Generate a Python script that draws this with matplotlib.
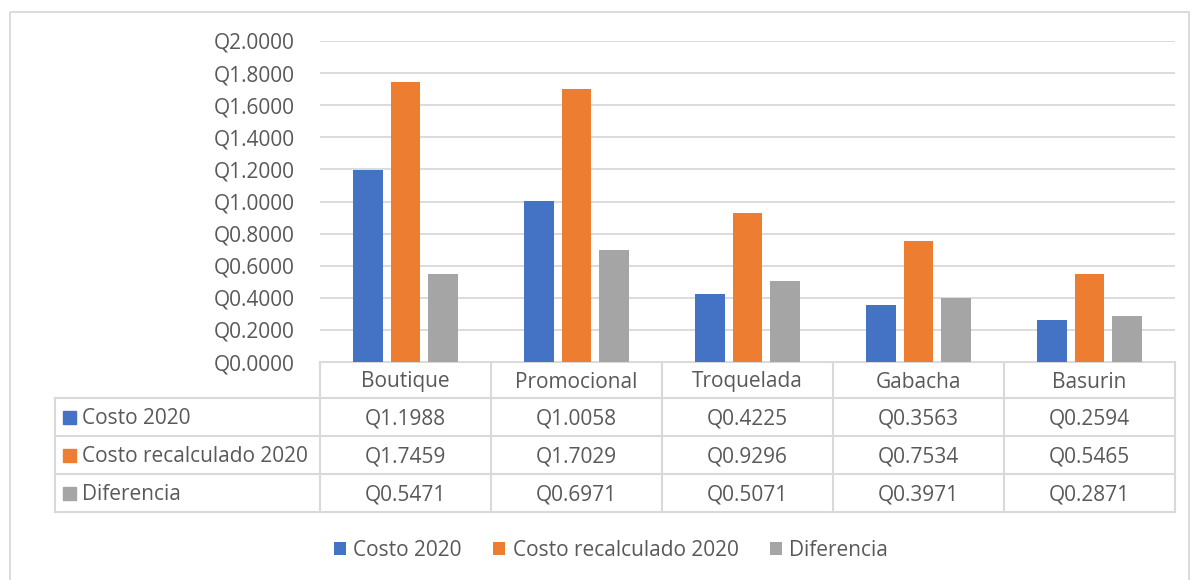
import matplotlib
matplotlib.use("Agg")
import matplotlib.pyplot as plt
from matplotlib.patches import Rectangle, Patch

categorias = ["Boutique", "Promocional", "Troquelada", "Gabacha", "Basurin"]
series = ["Costo 2020", "Costo recalculado 2020", "Diferencia"]
costo_2020 = [1.1988, 1.0058, 0.4225, 0.3563, 0.2594]
costo_recalculado = [1.7459, 1.7029, 0.9296, 0.7534, 0.5465]
diferencia = [0.5471, 0.6971, 0.5071, 0.3971, 0.2871]
y_ticks = [0.0, 0.2, 0.4, 0.6, 0.8, 1.0, 1.2, 1.4, 1.6, 1.8, 2.0]

colores = ["#4472C4", "#ED7D31", "#A5A5A5"]
texto = "#595959"
linea = "#D9D9D9"
fuente = "Open Sans"
fs = 15
W, H = 1192, 580

plt.rcParams["font.family"] = [fuente, "DejaVu Sans"]

fig = plt.figure(figsize=(W / 100, H / 100), dpi=100)

# capa de dibujo en pixeles (bordes, tabla, leyenda)
capa = fig.add_axes([0, 0, 1, 1])
capa.set_xlim(0, W)
capa.set_ylim(H, 0)
capa.axis("off")

# area del grafico
x0, x1 = 320, 1175
y_top, y_base = 41, 362
ax = fig.add_axes([x0 / W, (H - y_base) / H, (x1 - x0) / W, (y_base - y_top) / H])
ax.set_xlim(0, len(categorias))
ax.set_ylim(0, 2.0)
for s in ax.spines.values():
    s.set_visible(False)
ax.set_xticks([])
ax.set_yticks(y_ticks)
ax.set_yticklabels(["Q%.4f" % v for v in y_ticks], color=texto, fontsize=fs)
ax.tick_params(axis="y", length=0, pad=18)
ax.grid(axis="y", color=linea, linewidth=1.3)
ax.set_axisbelow(True)

valores = [costo_2020, costo_recalculado, diferencia]
ancho = 0.175
paso = 0.222
for k, vals in enumerate(valores):
    xs = [i + 0.5 + (k - 1) * paso for i in range(len(categorias))]
    ax.bar(xs, vals, width=ancho, color=colores[k], zorder=3)

# tabla de datos
col_w = (x1 - x0) / len(categorias)
filas_y = [362, 398, 436, 474, 512]
lw = 1.5
capa.plot([x0, x1], [filas_y[0], filas_y[0]], color=linea, lw=lw)
for j in range(len(categorias) + 1):
    xx = x0 + j * col_w
    capa.plot([xx, xx], [filas_y[0], filas_y[-1]], color=linea, lw=lw)
for yy in filas_y[1:]:
    capa.plot([55, x1], [yy, yy], color=linea, lw=lw)
capa.plot([55, 55], [filas_y[1], filas_y[-1]], color=linea, lw=lw)

for j, c in enumerate(categorias):
    capa.text(x0 + (j + 0.5) * col_w, (filas_y[0] + filas_y[1]) / 2 + 2, c,
              ha="center", va="center", color=texto, fontsize=fs)
for k, nombre in enumerate(series):
    yc = (filas_y[k + 1] + filas_y[k + 2]) / 2
    capa.add_patch(Rectangle((63, yc - 6), 13, 13, color=colores[k]))
    capa.text(82, yc + 2, nombre, ha="left", va="center", color=texto, fontsize=fs)
    for j, v in enumerate(valores[k]):
        capa.text(x0 + (j + 0.5) * col_w, yc + 2, "Q%.4f" % v,
                  ha="center", va="center", color=texto, fontsize=fs)

# borde exterior
capa.add_patch(Rectangle((10, 12), 1179, 600, fill=False, edgecolor=linea, lw=1.3))

# leyenda
manijas = [Patch(facecolor=colores[k], label=series[k]) for k in range(3)]
leg = capa.legend(handles=manijas, loc="center", ncol=3, frameon=False,
                  bbox_to_anchor=(611 / W, 1 - 550 / H), bbox_transform=fig.transFigure,
                  handlelength=0.58, handleheight=0.58, handletextpad=0.35,
                  columnspacing=1.5, fontsize=fs, labelcolor=texto)

fig.savefig("out.png", dpi=100)
